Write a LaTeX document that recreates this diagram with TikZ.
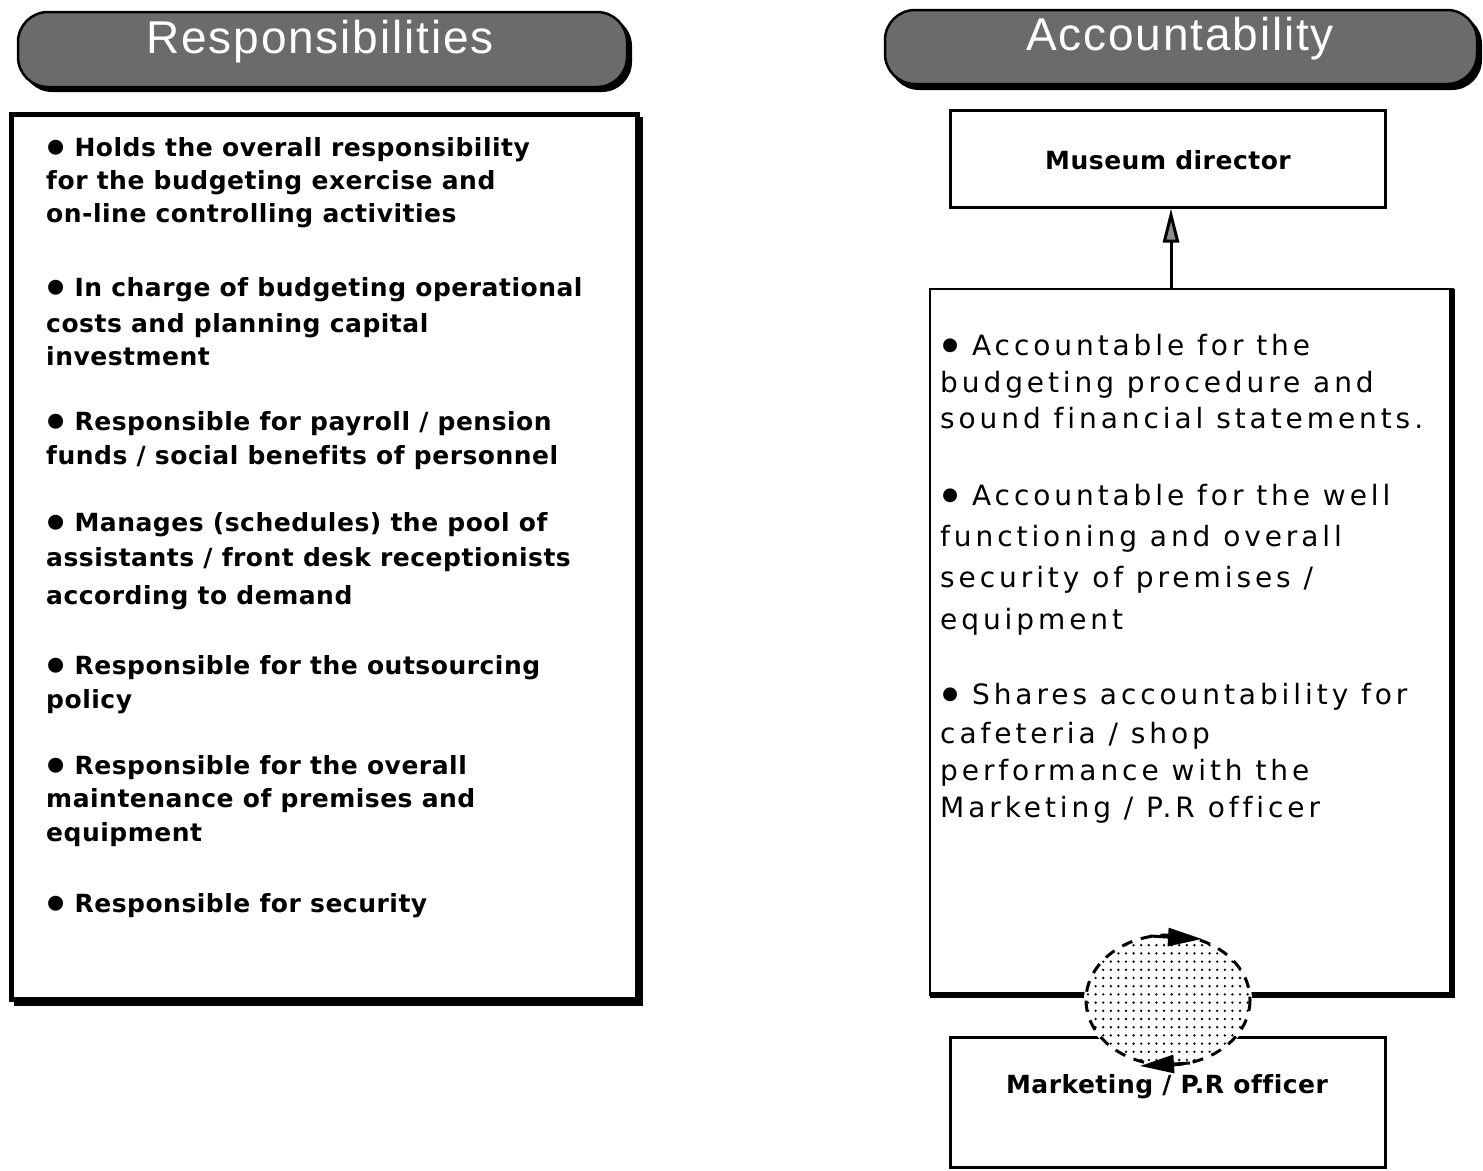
\documentclass[tikz,border=0pt]{standalone}
\usepackage{fontspec}
\usepackage{graphicx}
\setmainfont{Liberation Sans}
\newfontfamily\titlefont[LetterSpace=4]{Liberation Sans}
\newfontfamily\leftfont[LetterSpace=2,Ligatures={NoCommon}]{DejaVu Sans}
\newfontfamily\wide[LetterSpace=14,Ligatures={NoCommon}]{DejaVu Sans}
\newcommand{\bul}{\kern-0.14em\raisebox{-0.30em}{\scalebox{1.7}{\textbullet}}\kern-0.18em}
\usetikzlibrary{arrows.meta}
\tikzset{
  x=1pt,y=-1pt,
  pilltitle/.style={font=\fontsize{46}{50}\selectfont\titlefont, text=white, anchor=center},
  lefttext/.style={anchor=base west, inner sep=0, font=\fontsize{25}{28}\selectfont\leftfont\bfseries},
  righttext/.style={anchor=base west, inner sep=0, font=\fontsize{28}{32}\selectfont\wide},
  boxlabel/.style={anchor=center, inner sep=0, font=\fontsize{25}{28}\selectfont\leftfont\bfseries},
  pillgray/.style={fill=black!58, draw=black, line width=2.5},
  looparrow/.style={line width=3, -{Triangle[length=34, width=18]}},
}
\begin{document}
\begin{tikzpicture}
\useasboundingbox (0,0) rectangle (1483,1170);
\fill[white] (0,0) rectangle (1483,1170);

% ---- title pills with drop shadow ----
\fill[black, rounded corners=30] (22,16) rectangle (632,92);
\draw[pillgray, rounded corners=30] (18,12) rectangle (627,87);
\node[pilltitle] (resp) at (320,42) {Responsibilities};

\fill[black, rounded corners=30] (889,14) rectangle (1482,90);
\draw[pillgray, rounded corners=30] (885,10) rectangle (1477,84);
\node[pilltitle] (acc) at (1180,39) {Accountability};

% ---- left box ----
\fill[black] (14,117) rectangle (643,1006);
\draw[line width=5, fill=white] (11,114) rectangle (637,999);

\node[lefttext] (a1) at (46,156) {\bul{} Holds the overall responsibility};
\node[lefttext] (a2) at (46,189) {for the budgeting exercise and};
\node[lefttext] (a3) at (46,222) {on-line controlling activities};
\node[lefttext] (b1) at (46,296) {\bul{} In charge of budgeting operational};
\node[lefttext] (b2) at (46,332) {costs and planning capital};
\node[lefttext] (b3) at (46,365) {investment};
\node[lefttext] (c1) at (46,430) {\bul{} Responsible for payroll / pension};
\node[lefttext] (c2) at (46,464) {funds / social benefits of personnel};
\node[lefttext] (d1) at (46,531) {\bul{} Manages (schedules) the pool of};
\node[lefttext] (d2) at (46,566) {assistants / front desk receptionists};
\node[lefttext] (d3) at (46,604) {according to demand};
\node[lefttext] (e1) at (46,674) {\bul{} Responsible for the outsourcing};
\node[lefttext] (e2) at (46,708) {policy};
\node[lefttext] (f1) at (46,774) {\bul{} Responsible for the overall};
\node[lefttext] (f2) at (46,807) {maintenance of premises and};
\node[lefttext] (f3) at (46,841) {equipment};
\node[lefttext] (g1) at (46,912) {\bul{} Responsible for security};

% ---- right column ----
\node[draw, line width=3, minimum width=435, minimum height=97, inner sep=0] (dir) at (1167.5,158.5) {};
\node[boxlabel] at (1168,160) {Museum director};

% main accountability box: thin top/left, heavy right/bottom
\coordinate (mtl) at (930,289);
\draw[line width=2.5] (930,996) -- (mtl) -- (1454,289);
\draw[line width=6] (1452,289) -- (1452,995) -- (930,995);
\coordinate (mtop) at (1171,289);
\draw[line width=3, -{Triangle[length=34, width=16, fill=black!45]}] (mtop) -- (mtop |- dir.south);

\node[righttext] (r1) at (940,355) {\bul{} Accountable for the};
\node[righttext] (r2) at (940,392) {budgeting procedure and};
\node[righttext] (r3) at (940,428) {sound financial statements.};
\node[righttext] (r4) at (940,505) {\bul{} Accountable for the well};
\node[righttext] (r5) at (940,546) {functioning and overall};
\node[righttext] (r6) at (940,587) {security of premises /};
\node[righttext] (r7) at (940,629) {equipment};
\node[righttext] (r8) at (940,704) {\bul{} Shares accountability for};
\node[righttext] (r9) at (940,743) {cafeteria / shop};
\node[righttext] (r10) at (940,780) {performance with the};
\node[righttext] (r11) at (940,817) {Marketing / P.R officer};

% marketing box
\node[draw, line width=3, minimum width=435, minimum height=130, inner sep=0] (mkt) at (1167.5,1102) {};
\node[boxlabel] at (1167,1087) {Marketing / P.R officer};

% shared-accountability loop: dotted disc with dashed rim
\coordinate (loop) at (1168,1000);
\fill[white] (loop) ellipse [x radius=84, y radius=67];
\begin{scope}
  \clip (loop) ellipse [x radius=82, y radius=65];
  \foreach \i in {0,...,21}{
    \foreach \j in {0,...,16}{
      \fill (1088+\i*7.6, 937+\j*8.2) circle (1.3);
    }
  }
\end{scope}
\draw[line width=3, dash pattern=on 11 off 9] (loop) ellipse [x radius=82, y radius=65];
\draw[looparrow] (1150,936) -- (1202,939);
\draw[looparrow] (1190,1063) -- (1140,1066);
\end{tikzpicture}
\end{document}
